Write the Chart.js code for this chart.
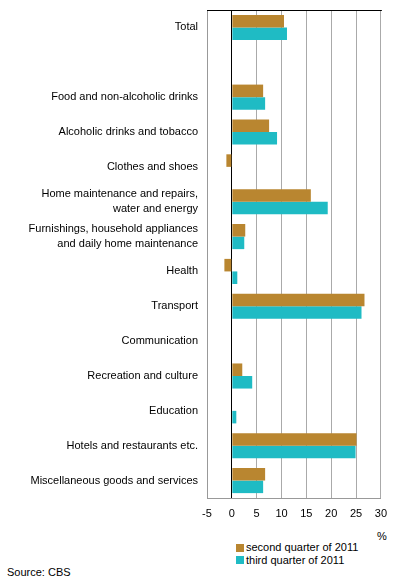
<!DOCTYPE html>
<html>
<head>
<meta charset="utf-8">
<script src="https://cdn.jsdelivr.net/npm/chart.js@4/dist/chart.umd.min.js"></script>
<style>
    body { margin: 0; background: #fff; font-family: "Liberation Sans", Arial, sans-serif; font-size: 11px; color: #000; }
    #wrap { position: relative; width: 396px; height: 586px; }
    #chartbox { position: absolute; left: 0; top: 0; width: 396px; height: 525px; }
    #unit { position: absolute; left: 377px; top: 530px; }
    #legend { position: absolute; left: 236px; top: 541px; }
    #legend div { height: 12.5px; line-height: 12.5px; white-space: nowrap; }
    #legend span { display: inline-block; width: 8px; height: 8px; margin-right: 2px; vertical-align: -0.5px; }
    #source { position: absolute; left: 7px; top: 566px; }
</style>
</head>
<body>
<div id="wrap">
    <div id="chartbox"><canvas id="chart"></canvas></div>
    <div id="unit">%</div>
    <div id="legend"></div>
    <div id="source">Source: CBS</div>
</div>
<script>
// ===== DATA =====
const categories = [
    "Total",
    "",
    "Food and non-alcoholic drinks",
    "Alcoholic drinks and tobacco",
    "Clothes and shoes",
    ["Home maintenance and repairs,", "water and energy"],
    ["Furnishings, household appliances", "and daily home maintenance"],
    "Health",
    "Transport",
    "Communication",
    "Recreation and culture",
    "Education",
    "Hotels and restaurants etc.",
    "Miscellaneous goods and services"
];
const secondQuarter = [10.5, null, 6.3, 7.5, -1.1, 15.9, 2.7, -1.5, 26.7, 0, 2.1, 0, 25.1, 6.7];
const thirdQuarter = [11.1, null, 6.7, 9.1, 0, 19.3, 2.5, 1.1, 26.1, 0, 4.1, 0.9, 24.9, 6.3];
const seriesNames = ["second quarter of 2011", "third quarter of 2011"];
const seriesColors = ["#b98630", "#1fbbc4"];
const xTicks = [-5, 0, 5, 10, 15, 20, 25, 30];

const FONT = { family: "'Liberation Sans', Arial, sans-serif", size: 11 };

// legend below the chart
const legendEl = document.getElementById("legend");
seriesNames.forEach((name, i) => {
    const row = document.createElement("div");
    row.innerHTML = `<span style="background:${seriesColors[i]}"></span>${name}`;
    legendEl.appendChild(row);
});

// black line on top of the plot area
const topLine = {
    id: "topLine",
    afterDraw(chart) {
        const { ctx, chartArea } = chart;
        ctx.save();
        ctx.strokeStyle = "#000";
        ctx.lineWidth = 1;
        ctx.beginPath();
        ctx.moveTo(chartArea.left, chartArea.top + 0.5);
        ctx.lineTo(chartArea.right + 1, chartArea.top + 0.5);
        ctx.stroke();
        ctx.restore();
    }
};

const ctx = document.getElementById("chart").getContext("2d");
const chart = new Chart(ctx, {
    type: "bar",
    data: {
        labels: categories,
        datasets: [
            { label: seriesNames[0], data: secondQuarter, backgroundColor: seriesColors[0] },
            { label: seriesNames[1], data: thirdQuarter, backgroundColor: seriesColors[1] }
        ]
    },
    options: {
        indexAxis: "y",
        responsive: true,
        maintainAspectRatio: false,
        animation: false,
        categoryPercentage: 0.72,
        barPercentage: 1,
        layout: { padding: { top: 10, right: 13, left: 0, bottom: 0 } },
        plugins: {
            legend: { display: false },
            tooltip: { enabled: false }
        },
        scales: {
            x: {
                min: -5,
                max: 30,
                afterBuildTicks: (scale) => { scale.ticks = xTicks.map(v => ({ value: v })); },
                afterFit: (scale) => { scale.height = 27; },
                border: { display: true, color: "#999" },
                grid: {
                    drawTicks: false,
                    color: (c) => c.tick && c.tick.value === 0 ? "#000" : "#aaa"
                },
                ticks: { color: "#000", font: FONT, padding: 9, maxRotation: 0 }
            },
            y: {
                afterFit: (scale) => {
                    scale.width = 207;
                    scale.paddingTop = 0;
                    scale.paddingBottom = 0;
                },
                border: { display: true, color: "#999" },
                grid: { display: false, drawTicks: false },
                ticks: { color: "#000", font: { ...FONT, lineHeight: 1.36 }, padding: 9, autoSkip: false }
            }
        }
    },
    plugins: [topLine]
});
</script>
</body>
</html>
